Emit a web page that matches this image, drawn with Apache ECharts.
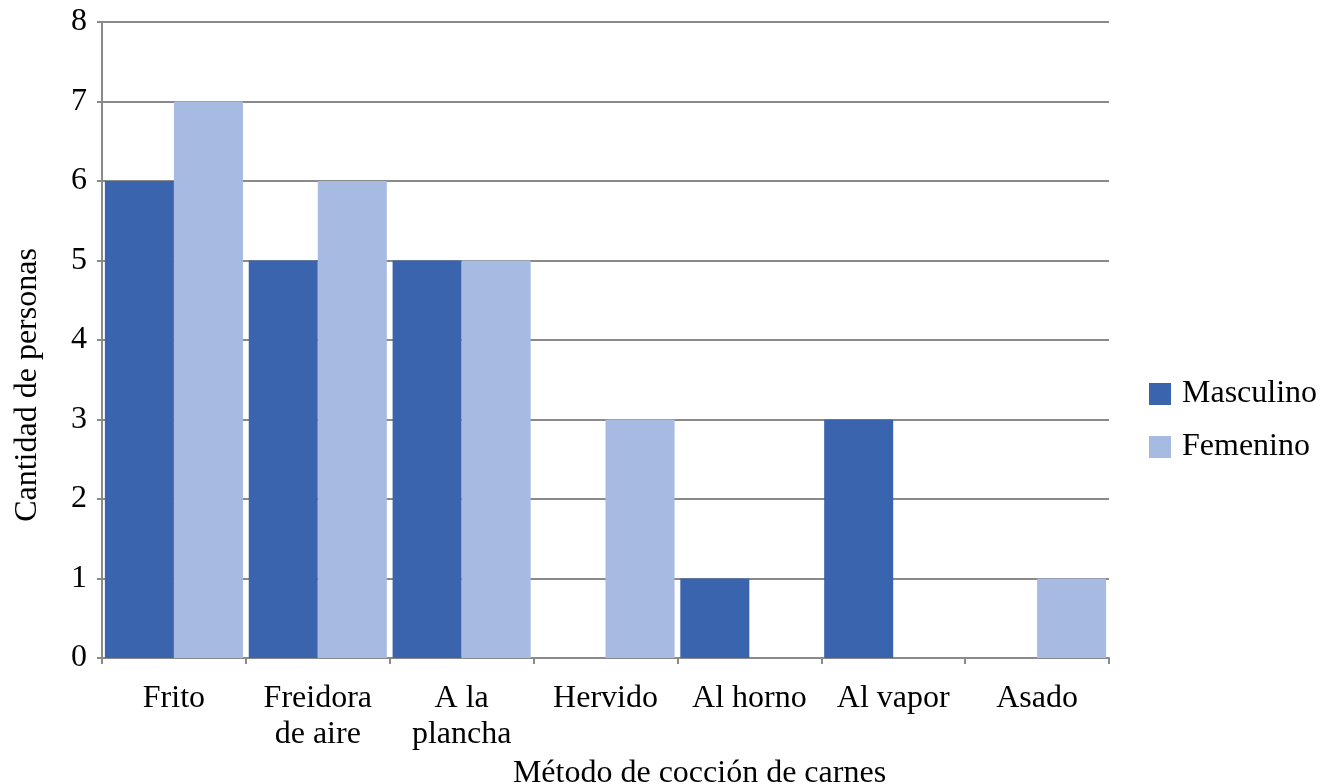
<!DOCTYPE html>
<html>
<head>
<meta charset="utf-8">
<script src="https://cdn.jsdelivr.net/npm/echarts@6/dist/echarts.min.js"></script>
<style>
  html, body { margin: 0; padding: 0; background: #ffffff; }
  #chart { width: 1334px; height: 784px; }
</style>
</head>
<body>
<div id="chart"></div>
<script>
// Métodos de cocción de carnes, por sexo
const categories = ['Frito', 'Freidora\nde aire', 'A la\nplancha', 'Hervido', 'Al horno', 'Al vapor', 'Asado'];
const masculino = [6, 5, 5, 0, 1, 3, 0];
const femenino = [7, 6, 5, 3, 0, 0, 1];
const yTicks = [0, 1, 2, 3, 4, 5, 6, 7, 8];

const serif = "'Liberation Serif', 'DejaVu Serif', serif";
const gridColor = '#8a8a8a';

const chart = echarts.init(document.getElementById('chart'), null, { renderer: 'canvas' });
chart.setOption({
  animation: false,
  backgroundColor: '#ffffff',
  grid: {
    left: 102, right: 225, top: 22, bottom: 126,
    containLabel: false,
    outerBoundsMode: 'none'
  },
  legend: {
    orient: 'vertical',
    left: 1144,
    top: 373,
    itemWidth: 22,
    itemHeight: 22,
    itemGap: 21,
    icon: 'rect',
    textStyle: { fontFamily: serif, fontSize: 32, lineHeight: 32, color: '#000', padding: [0, 0, 0, 6] },
    data: ['Masculino', 'Femenino']
  },
  xAxis: {
    type: 'category',
    data: categories,
    name: 'Método de cocción de carnes',
    nameLocation: 'middle',
    nameGap: 100,
    // title sits centred on the whole figure rather than the plot area
    nameTextStyle: { fontFamily: serif, fontSize: 32, color: '#000', padding: [0, 0, 0, 188] },
    axisLine: { show: true, lineStyle: { color: gridColor, width: 2 } },
    axisTick: { show: true, length: 6, lineStyle: { color: gridColor, width: 2 } },
    axisLabel: {
      interval: 0,
      fontFamily: serif,
      fontSize: 32,
      lineHeight: 36,
      color: '#000',
      margin: 23
    }
  },
  yAxis: {
    type: 'value',
    min: yTicks[0],
    max: yTicks[yTicks.length - 1],
    interval: 1,
    name: 'Cantidad de personas',
    nameLocation: 'middle',
    nameGap: 58,
    nameRotate: 90,
    // shifted down to sit centred on the whole figure height
    nameTextStyle: { fontFamily: serif, fontSize: 32, color: '#000', padding: [0, 90, 0, 0] },
    axisLine: { show: true, lineStyle: { color: gridColor, width: 2 } },
    axisTick: { show: true, length: 5, lineStyle: { color: gridColor, width: 2 } },
    axisLabel: { fontFamily: serif, fontSize: 32, color: '#000', margin: 15 },
    splitLine: { show: true, lineStyle: { color: gridColor, width: 2 } }
  },
  series: [
    {
      name: 'Masculino',
      type: 'bar',
      data: masculino,
      barGap: '0%',
      barCategoryGap: '4%',
      itemStyle: { color: '#3A64AD' }
    },
    {
      name: 'Femenino',
      type: 'bar',
      data: femenino,
      barGap: '0%',
      barCategoryGap: '4%',
      itemStyle: { color: '#A7BBE2' }
    }
  ]
});
</script>
</body>
</html>
